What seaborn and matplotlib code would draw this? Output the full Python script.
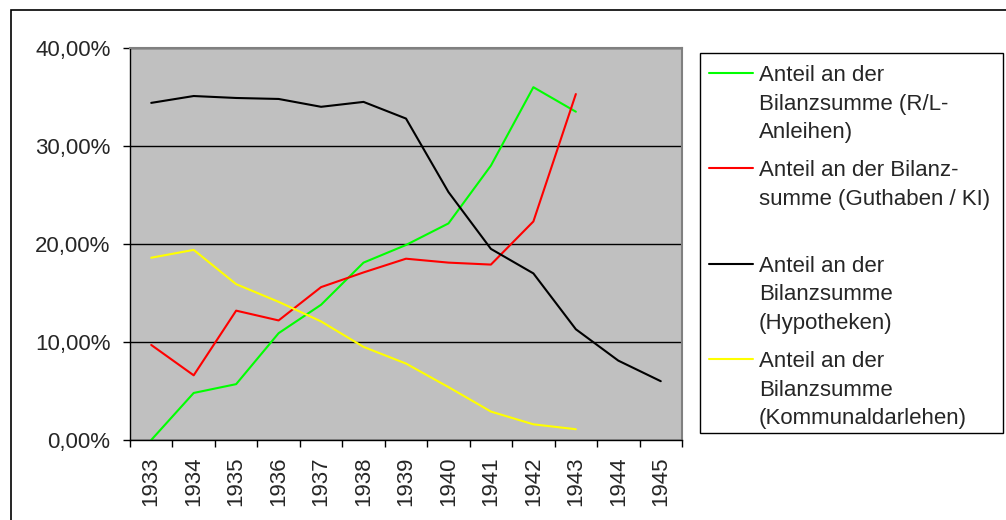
import numpy as np
import pandas as pd
import matplotlib
matplotlib.use("Agg")
import matplotlib.pyplot as plt
import seaborn as sns
from matplotlib.ticker import FuncFormatter, FixedLocator
from matplotlib.patches import Rectangle

years = list(range(1933, 1946))

# Anteil an der Bilanzsumme in %
rl_anleihen = [0.0, 4.8, 5.7, 10.9, 13.8, 18.1, 19.9, 22.1, 28.0, 36.0, 33.5]
guthaben_ki = [9.7, 6.6, 13.2, 12.2, 15.6, 17.1, 18.5, 18.1, 17.9, 22.3, 35.3]
hypotheken = [34.4, 35.1, 34.9, 34.8, 34.0, 34.5, 32.8, 25.3, 19.5, 17.0, 11.3, 8.1, 6.0]
kommunal = [18.6, 19.4, 15.9, 14.1, 12.1, 9.5, 7.8, 5.4, 2.9, 1.6, 1.1]

labels = [
    "Anteil an der\nBilanzsumme (R/L-\nAnleihen)",
    "Anteil an der Bilanz-\nsumme (Guthaben / KI)\n",
    "Anteil an der\nBilanzsumme\n(Hypotheken)",
    "Anteil an der\nBilanzsumme\n(Kommunaldarlehen)",
]
colors = ["#00FF00", "#FF0000", "#000000", "#FFFF00"]
series = [rl_anleihen, guthaben_ki, hypotheken, kommunal]

sns.set_style("white")
plt.rcParams["font.family"] = ["Liberation Sans", "DejaVu Sans"]
plt.rcParams["font.size"] = 16

W, H = 1006, 520
fig = plt.figure(figsize=(W / 100, H / 100), dpi=100)
ax = fig.add_axes([130 / W, 1 - 440 / H, (682 - 130) / W, (440 - 48) / H])
ax.set_facecolor("#C0C0C0")

for vals, lab, col in zip(series, labels, colors):
    df = pd.DataFrame({"Jahr": years[:len(vals)], "Anteil": vals})
    sns.lineplot(data=df, x="Jahr", y="Anteil", color=col, lw=1.5,
                 label=lab, ax=ax, legend=False)

ax.set_xlim(years[0] - 0.5, years[-1] + 0.5)
ax.set_ylim(0, 40)
ax.set_xlabel("")
ax.set_ylabel("")

# category axis: ticks between years, labels at centers
ax.xaxis.set_major_locator(FixedLocator(np.arange(years[0] - 0.5, years[-1] + 1, 1)))
ax.xaxis.set_minor_locator(FixedLocator(years))
ax.xaxis.set_major_formatter(FuncFormatter(lambda v, p: ""))
ax.xaxis.set_minor_formatter(FuncFormatter(lambda v, p: str(int(round(v)))))
ax.tick_params(axis="x", which="major", direction="out", length=5, width=1, color="black", bottom=True)
ax.tick_params(axis="x", which="minor", length=0, pad=12, labelrotation=90, labelsize=16, bottom=True)

ax.set_yticks([0, 10, 20, 30, 40])
ax.yaxis.set_major_formatter(FuncFormatter(lambda v, p: f"{v:.2f}".replace(".", ",") + "%"))
ax.tick_params(axis="y", direction="out", length=5, width=1, color="black", pad=9, left=True, labelsize=16)

ax.yaxis.grid(True, color="black", lw=1)
ax.xaxis.grid(False)
ax.set_axisbelow(True)

for s in ["left", "bottom"]:
    ax.spines[s].set_color("black")
    ax.spines[s].set_linewidth(1)
for s in ["top", "right"]:
    ax.spines[s].set_color("#808080")
    ax.spines[s].set_linewidth(1.5)
    ax.spines[s].set_visible(True)

# legend
handles = ax.get_lines()[:4]
leg = fig.legend(handles, labels, loc="upper left",
                 bbox_to_anchor=(709 / W, 1 - 65 / H), bbox_transform=fig.transFigure,
                 frameon=False, borderpad=0, borderaxespad=0, handlelength=2.0,
                 handletextpad=0.25, labelspacing=0.78, fontsize=16)
for t in leg.get_texts():
    t.set_linespacing(1.47)
for col in leg._legend_handle_box.get_children():
    for item in col.get_children():
        item.align = "top"

fig.add_artist(Rectangle((700 / W, 1 - 433 / H), (1003 - 700) / W, (433 - 53) / H,
                         transform=fig.transFigure, fill=False, edgecolor="black", lw=1))
# outer chart border
fig.add_artist(Rectangle((11 / W, -0.1), 1.2, 1.1 - 10 / H,
                         transform=fig.transFigure, fill=False, edgecolor="black", lw=1.2))

fig.savefig("out.png", dpi=100, facecolor="white")
